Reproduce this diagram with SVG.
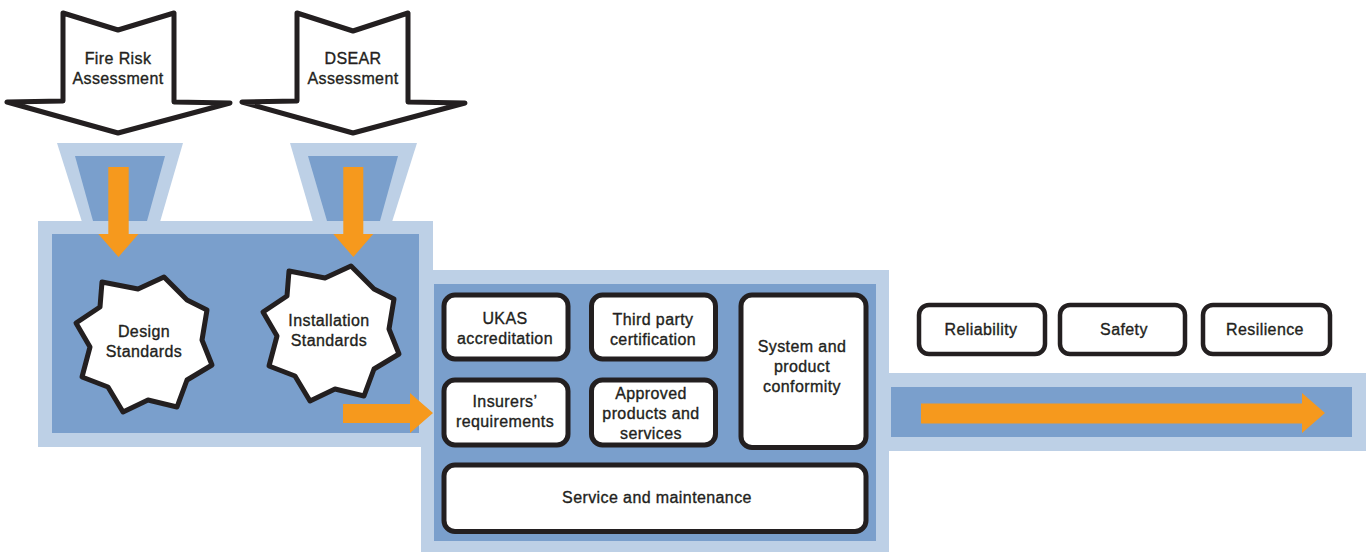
<svg xmlns="http://www.w3.org/2000/svg" width="1371" height="552" viewBox="0 0 1371 552">
<style>
.light{fill:#bdd0e6}
.dark{fill:#7a9fcc}
.org{fill:#f6991d}
.blk{fill:#fff;stroke:#231f20;stroke-linejoin:round}
.box{fill:#fff;stroke:#231f20;stroke-width:5}
.box2{fill:#fff;stroke:#231f20;stroke-width:4.5}
text{font-family:"Liberation Sans",Arial,sans-serif;font-size:16px;fill:#231f20;stroke:#231f20;stroke-width:0.35;letter-spacing:0.4px;text-anchor:middle}
</style>
<defs>
<polygon id="star" points="164,277 187,300 207,310 202,340 212,365 187,380 177,407 148,400 123,412 108,387 82,377 90,347 76,323 100,307 102,282 138,289"/>
</defs>
<g id="backgrounds">
<rect class="light" x="38" y="221" width="395" height="226"/>
<rect class="light" x="421" y="270" width="468" height="282"/>
<rect class="light" x="876" y="373" width="490" height="78"/>
<polygon class="light" points="57,143 183,143 160,222 82,222"/>
<polygon class="light" points="290,143 417,143 392,222 313,222"/>
<rect class="dark" x="52" y="234" width="367" height="199"/>
<rect class="dark" x="434" y="284" width="442" height="257"/>
<rect class="dark" x="891" y="387" width="461" height="50"/>
<polygon class="dark" points="75,156 165,156 147,221 93,221"/>
<polygon class="dark" points="308,156 398,156 380,221 327,221"/>
</g>
<g id="fire-risk">
<polygon class="blk" stroke-width="5" points="63,13 118,30 174,13 174,102 230,103 118,133 7,102 63,101"/>
<text x="118" y="64">Fire Risk</text>
<text x="118" y="84">Assessment</text>
</g>
<g id="dsear">
<polygon class="blk" stroke-width="5" points="297,13 353,31 408,13 408,102 465,103 353,133 242,102 297,101"/>
<text x="353" y="64">DSEAR</text>
<text x="353" y="84">Assessment</text>
</g>
<g id="design-standards">
<use href="#star" class="blk" stroke-width="5"/>
<text x="144" y="337">Design</text>
<text x="144" y="357">Standards</text>
</g>
<g id="installation-standards">
<use href="#star" class="blk" stroke-width="5" transform="translate(187,-11)"/>
<text x="329" y="326">Installation</text>
<text x="329" y="346">Standards</text>
</g>
<g id="ukas">
<rect class="box" x="444" y="295" width="124" height="64" rx="11"/>
<text x="505" y="324">UKAS</text>
<text x="505" y="344">accreditation</text>
</g>
<g id="third-party">
<rect class="box" x="591.5" y="295" width="124" height="64" rx="11"/>
<text x="653" y="325">Third party</text>
<text x="653" y="345">certification</text>
</g>
<g id="system-conformity">
<rect class="box" x="741" y="295" width="125" height="152.5" rx="11"/>
<text x="802" y="352">System and</text>
<text x="802" y="372">product</text>
<text x="802" y="392">conformity</text>
</g>
<g id="insurers">
<rect class="box" x="444" y="380" width="124" height="65" rx="11"/>
<text x="505" y="407">Insurers’</text>
<text x="505" y="427">requirements</text>
</g>
<g id="approved">
<rect class="box" x="591.5" y="380" width="124" height="65" rx="11"/>
<text x="651" y="399">Approved</text>
<text x="651" y="419">products and</text>
<text x="651" y="439">services</text>
</g>
<g id="service">
<rect class="box" x="444" y="465" width="422" height="66.5" rx="11"/>
<text x="657" y="503">Service and maintenance</text>
</g>
<g id="reliability">
<rect class="box2" x="919" y="305" width="126" height="49" rx="10"/>
<text x="981" y="335">Reliability</text>
</g>
<g id="safety">
<rect class="box2" x="1060" y="305" width="125" height="49" rx="10"/>
<text x="1124" y="335">Safety</text>
</g>
<g id="resilience">
<rect class="box2" x="1203" y="305" width="127" height="49" rx="10"/>
<text x="1265" y="335">Resilience</text>
</g>
<g id="connectors">
<polygon class="org" points="108.3,167 128.7,167 128.7,234 138.5,234 118.5,257 98.3,234 108.3,234"/>
<polygon class="org" points="343.3,167 363.3,167 363.3,234 373.3,234 353.3,257 333.3,234 343.3,234"/>
<polygon class="org" points="343,404 410,404 410,393 433,413 410,433 410,423 343,423"/>
<polygon class="org" points="921,403.5 1302,403.5 1302,393 1325,413 1302,433 1302,423.5 921,423.5"/>
</g>
</svg>
